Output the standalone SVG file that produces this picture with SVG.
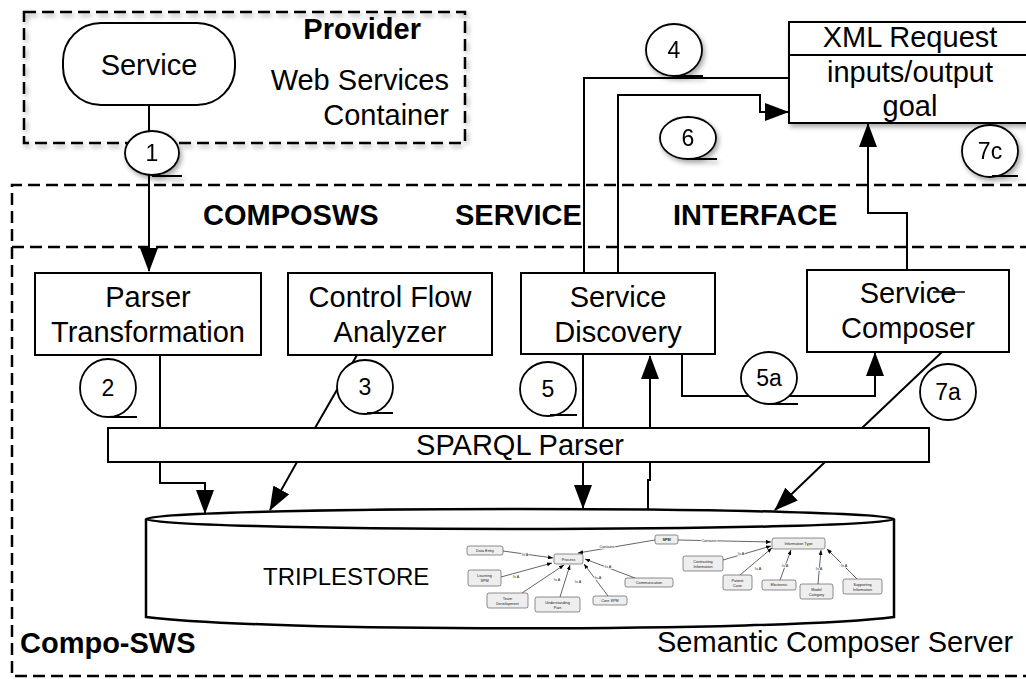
<svg xmlns="http://www.w3.org/2000/svg" width="1026" height="679" viewBox="0 0 1026 679">
<defs>
<style>
text{font-family:"Liberation Sans",Arial,sans-serif;fill:#000}
.t{font-size:29px}
.tc{text-anchor:middle}
.b{font-weight:bold}
.num{font-size:23px;text-anchor:middle}
.box{fill:#fff;stroke:#000;stroke-width:2}
.dash{fill:none;stroke:#000;stroke-width:2.5;stroke-dasharray:12 6}
.ln{fill:none;stroke:#000;stroke-width:2}
.call{fill:#fff;stroke:#000;stroke-width:1.8}
.on{fill:#eee;stroke:#444;stroke-width:0.6}
.ot{font-size:3.8px;text-anchor:middle;fill:#222}
.oe{fill:none;stroke:#222;stroke-width:0.7}
.ol{font-size:3.8px;text-anchor:middle;fill:#222;stroke:#fff;stroke-width:1.5;paint-order:stroke}
</style>
<marker id="ah" markerUnits="strokeWidth" viewBox="0 0 24 18" markerWidth="12" markerHeight="9" refX="23" refY="9" orient="auto">
<path d="M0,0 L24,9 L0,18 Z" fill="#000"/>
</marker>
<marker id="sa" markerUnits="userSpaceOnUse" viewBox="0 0 5 4" markerWidth="5" markerHeight="4" refX="5" refY="2" orient="auto">
<path d="M0,0 L5,2 L0,4 Z" fill="#000"/>
</marker>
<filter id="sh" x="-20%" y="-20%" width="140%" height="150%">
<feDropShadow dx="2" dy="3" stdDeviation="2.5" flood-color="#000" flood-opacity="0.35"/>
</filter>
</defs>
<rect width="1026" height="679" fill="#fff"/>

<g id="provider">
<rect x="24" y="12" width="441" height="131" class="dash" filter="url(#sh)"/>
<text x="421" y="39" class="t b" text-anchor="end">Provider</text>
<text x="449" y="90" class="t" text-anchor="end">Web Services</text>
<text x="449" y="125" class="t" text-anchor="end">Container</text>
</g>

<g id="compo-sws">
<path d="M1030,185 L12,185 L12,676 L1030,676" class="dash"/>
<line x1="12" y1="247" x2="1030" y2="247" class="dash"/>
<text x="203" y="225" class="t b">COMPOSWS</text>
<text x="455" y="225" class="t b">SERVICE</text>
<text x="673" y="225" class="t b">INTERFACE</text>
<text x="20" y="653" class="t b">Compo-SWS</text>
<text x="657" y="652" class="t">Semantic Composer Server</text>
</g>

<g id="connectors">
<line x1="149" y1="105" x2="149" y2="132" class="ln"/>
<line x1="149" y1="175" x2="149" y2="271" class="ln" marker-end="url(#ah)"/>
<line x1="160" y1="355" x2="160" y2="428" class="ln"/>
<line x1="357" y1="355" x2="315" y2="428" class="ln"/>
<polyline points="160,462 160,483 205,483 205,513" class="ln" marker-end="url(#ah)"/>
<line x1="297" y1="462" x2="270" y2="510" class="ln" marker-end="url(#ah)"/>
<line x1="583" y1="354" x2="583" y2="428" class="ln"/>
<line x1="583" y1="462" x2="583" y2="508" class="ln" marker-end="url(#ah)"/>
<line x1="650" y1="428" x2="650" y2="356" class="ln" marker-end="url(#ah)"/>
<polyline points="650,462 650,480 648,480 648,510" class="ln"/>
<polyline points="682,354 682,396 875,396 875,353" class="ln" marker-end="url(#ah)"/>
<line x1="942" y1="352" x2="862" y2="428" class="ln"/>
<line x1="825" y1="462" x2="775" y2="510" class="ln" marker-end="url(#ah)"/>
<polyline points="789,78 584,78 584,273" class="ln"/>
<polyline points="618,273 618,95 760,95 760,112 788,112" class="ln" marker-end="url(#ah)"/>
<polyline points="907,270 907,213 868,213 868,124" class="ln" marker-end="url(#ah)"/>
</g>

<g id="service">
<rect x="63" y="23" width="172" height="82" rx="38" ry="38" class="box"/>
<text x="149" y="75" class="t tc">Service</text>
</g>

<g id="xml-request">
<rect x="789" y="22" width="250" height="101" class="box" filter="url(#sh)"/>
<line x1="789" y1="55" x2="1039" y2="55" stroke="#000" stroke-width="2"/>
<text x="910" y="47" class="t tc">XML Request</text>
<text x="910" y="82" class="t tc">inputs/output</text>
<text x="910" y="116" class="t tc">goal</text>
</g>

<g id="parser-transformation">
<rect x="35" y="273" width="226" height="82" class="box"/>
<text x="148" y="307" class="t tc">Parser</text>
<text x="148" y="342" class="t tc">Transformation</text>
</g>

<g id="control-flow-analyzer">
<rect x="288" y="273" width="204" height="82" class="box"/>
<text x="390" y="307" class="t tc">Control Flow</text>
<text x="390" y="342" class="t tc">Analyzer</text>
</g>

<g id="service-discovery">
<rect x="521" y="273" width="194" height="81" class="box"/>
<text x="618" y="307" class="t tc">Service</text>
<text x="618" y="342" class="t tc">Discovery</text>
</g>

<g id="service-composer">
<rect x="807" y="270" width="202" height="82" class="box"/>
<text x="908" y="303" class="t tc">Service</text>
<text x="908" y="338" class="t tc">Composer</text>
<line x1="933" y1="292" x2="965" y2="292" stroke="#000" stroke-width="1.5"/>
</g>

<g id="sparql-parser">
<rect x="108" y="428" width="821" height="34" class="box"/>
<text x="520" y="455" class="t tc">SPARQL Parser</text>
</g>

<g id="triplestore">
<path d="M146,519 L146,617 C260,632 780,632 894,617 L894,519" fill="#fff" stroke="#000" stroke-width="2.5"/>
<ellipse cx="520" cy="519" rx="374" ry="10" fill="#fff" stroke="#000" stroke-width="2.5"/>
<text x="263" y="585" font-size="24">TRIPLESTORE</text>
<g id="ontology">
<line x1="655" y1="540" x2="578" y2="553" class="oe" marker-end="url(#sa)"/>
<text x="607" y="548" class="ol">Contains</text>
<line x1="678" y1="540" x2="771" y2="542" class="oe" marker-end="url(#sa)"/>
<text x="709" y="542" class="ol">Contains</text>
<line x1="503" y1="551" x2="553" y2="558" class="oe" marker-end="url(#sa)"/>
<text x="525" y="556" class="ol">Is A</text>
<line x1="501" y1="577" x2="552" y2="563" class="oe" marker-end="url(#sa)"/>
<text x="516" y="578" class="ol">Is A</text>
<line x1="522" y1="593" x2="564" y2="565" class="oe" marker-end="url(#sa)"/>
<text x="557" y="581" class="ol">Is A</text>
<line x1="560" y1="597" x2="570" y2="565" class="oe" marker-end="url(#sa)"/>
<text x="578" y="583" class="ol">Is A</text>
<line x1="608" y1="596" x2="584" y2="564" class="oe" marker-end="url(#sa)"/>
<text x="598" y="579" class="ol">Is A</text>
<line x1="635" y1="578" x2="585" y2="559" class="oe" marker-end="url(#sa)"/>
<text x="608" y="568" class="ol">Is A</text>
<line x1="723" y1="560" x2="771" y2="546" class="oe" marker-end="url(#sa)"/>
<text x="741" y="555" class="ol">Is A</text>
<line x1="740" y1="575" x2="772" y2="548" class="oe" marker-end="url(#sa)"/>
<text x="758" y="570" class="ol">Is A</text>
<line x1="780" y1="580" x2="791" y2="550" class="oe" marker-end="url(#sa)"/>
<text x="785" y="567" class="ol">Is A</text>
<line x1="818" y1="584" x2="821" y2="550" class="oe" marker-end="url(#sa)"/>
<text x="819" y="570" class="ol">Is A</text>
<line x1="857" y1="579" x2="827" y2="549" class="oe" marker-end="url(#sa)"/>
<text x="844" y="567" class="ol">Is A</text>

<rect x="467" y="546" width="36" height="9" rx="2" class="on"/><text x="485" y="552" class="ot">Data Entry</text>
<rect x="554" y="554" width="29" height="10" rx="2" class="on"/><text x="568.5" y="560.5" class="ot">Process</text>
<rect x="655" y="535" width="23" height="9" rx="2" class="on"/><text x="666.5" y="541" class="ot" font-weight="bold">SPM</text>
<rect x="468" y="570" width="33" height="16" rx="2" class="on"/><text x="484.5" y="577" class="ot">Learning</text><text x="484.5" y="582" class="ot">SPM</text>
<rect x="487" y="593" width="41" height="15" rx="2" class="on"/><text x="507.5" y="599.5" class="ot">Team</text><text x="507.5" y="604.5" class="ot">Development</text>
<rect x="535" y="597" width="45" height="15" rx="2" class="on"/><text x="557.5" y="603.5" class="ot">Understanding</text><text x="557.5" y="608.5" class="ot">Pain</text>
<rect x="593" y="596" width="34" height="9" rx="2" class="on"/><text x="610" y="602" class="ot">Core SPM</text>
<rect x="625" y="578" width="48" height="9" rx="2" class="on"/><text x="649" y="584" class="ot">Communication</text>
<rect x="772" y="538" width="53" height="11" rx="2" class="on"/><text x="798.5" y="544.8" class="ot">Information Type</text>
<rect x="683" y="556" width="40" height="15" rx="2" class="on"/><text x="703" y="562.5" class="ot">Contrasting</text><text x="703" y="567.5" class="ot">Information</text>
<rect x="723" y="575" width="29" height="15" rx="2" class="on"/><text x="737.5" y="581.5" class="ot">Patient</text><text x="737.5" y="586.5" class="ot">Case</text>
<rect x="762" y="580" width="34" height="10" rx="2" class="on"/><text x="779" y="586.3" class="ot">Electronic</text>
<rect x="800" y="584" width="33" height="15" rx="2" class="on"/><text x="816.5" y="590.5" class="ot">Model</text><text x="816.5" y="595.5" class="ot">Category</text>
<rect x="843" y="579" width="39" height="15" rx="2" class="on"/><text x="862.5" y="585.5" class="ot">Supporting</text><text x="862.5" y="590.5" class="ot">Information</text>
</g>
</g>

<g id="callout-1" filter="url(#sh)">
<ellipse cx="152" cy="153" rx="27" ry="22" class="call"/>
<line x1="152" y1="176" x2="182" y2="176" class="ln"/>
<text x="152" y="161" class="num">1</text>
</g>
<g id="callout-2">
<ellipse cx="108" cy="388" rx="28" ry="29" class="call"/>
<line x1="110" y1="417" x2="137" y2="417" class="ln"/>
<text x="108" y="396" class="num">2</text>
</g>
<g id="callout-3">
<ellipse cx="365" cy="387" rx="28" ry="27" class="call"/>
<line x1="367" y1="413" x2="393" y2="413" class="ln"/>
<text x="365" y="395" class="num">3</text>
</g>
<g id="callout-4" filter="url(#sh)">
<ellipse cx="674" cy="50" rx="28" ry="26" class="call"/>
<line x1="676" y1="76" x2="703" y2="76" class="ln"/>
<text x="674" y="58" class="num">4</text>
</g>
<g id="callout-5">
<ellipse cx="548" cy="389" rx="28" ry="27" class="call"/>
<line x1="550" y1="415" x2="577" y2="415" class="ln"/>
<text x="548" y="397" class="num">5</text>
</g>
<g id="callout-5a">
<ellipse cx="769" cy="378" rx="28" ry="26" class="call"/>
<line x1="770" y1="404" x2="798" y2="404" class="ln"/>
<text x="769" y="386" class="num">5a</text>
</g>
<g id="callout-6" filter="url(#sh)">
<ellipse cx="688" cy="138" rx="28" ry="21" class="call"/>
<line x1="690" y1="159" x2="717" y2="159" class="ln"/>
<text x="688" y="146" class="num">6</text>
</g>
<g id="callout-7a">
<ellipse cx="948" cy="392" rx="28" ry="28" class="call"/>
<text x="948" y="400" class="num">7a</text>
</g>
<g id="callout-7c" filter="url(#sh)">
<ellipse cx="990" cy="151" rx="28" ry="26" class="call"/>
<line x1="992" y1="176" x2="1018" y2="176" class="ln"/>
<text x="990" y="159" class="num">7c</text>
</g>
</svg>
